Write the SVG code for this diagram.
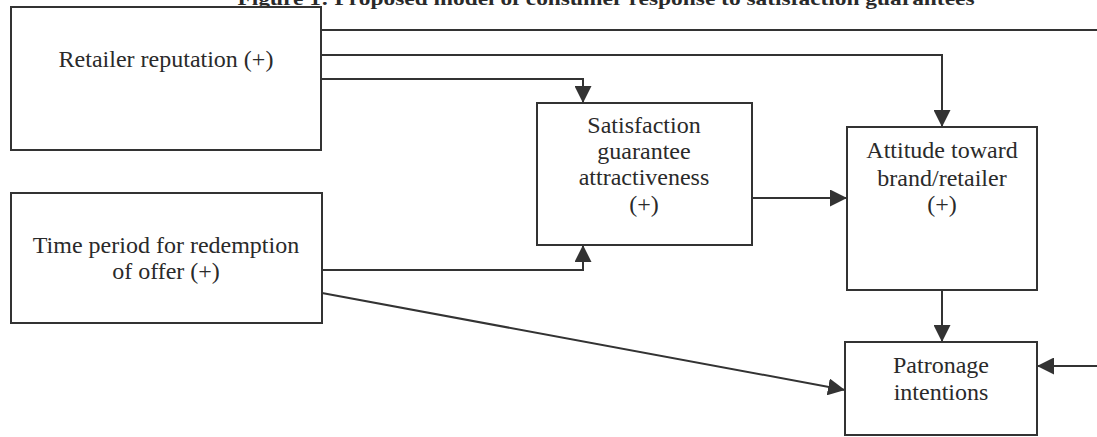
<svg xmlns="http://www.w3.org/2000/svg" width="1097" height="437" viewBox="0 0 1097 437">
<defs>
<style>
.box{fill:#fff;stroke:#333;stroke-width:2}
.lbl{font-family:"Liberation Serif","Times New Roman",serif;font-size:24px;fill:#2a2a2a;text-anchor:middle}
.title{font-family:"Liberation Serif","Times New Roman",serif;font-size:19px;font-weight:bold;fill:#2a2a2a;text-anchor:middle}
.con{fill:none;stroke:#333;stroke-width:2}
</style>
<marker id="ah" viewBox="0 0 17 17" refX="17" refY="8.5" markerWidth="17" markerHeight="17" markerUnits="userSpaceOnUse" orient="auto">
<path d="M0,0 L17,8.5 L0,17 Z" fill="#333"/>
</marker>
</defs>
<rect width="1097" height="437" fill="#fff"/>
<text class="title" x="606" y="5" textLength="737" lengthAdjust="spacingAndGlyphs">Figure 1: Proposed model of consumer response to satisfaction guarantees</text>
<g id="connectors">
<path class="con" d="M321,30 H1097"/>
<path class="con" d="M321,55 H942 V127" marker-end="url(#ah)"/>
<path class="con" d="M321,79 H583 V103" marker-end="url(#ah)"/>
<path class="con" d="M322,270 H583 V245" marker-end="url(#ah)"/>
<path class="con" d="M752,198 H847" marker-end="url(#ah)"/>
<path class="con" d="M942,290 V342" marker-end="url(#ah)"/>
<path class="con" d="M322,293 L845,390" marker-end="url(#ah)"/>
<path class="con" d="M1097,366 H1037" marker-end="url(#ah)"/>
</g>
<g id="retailer">
<rect class="box" x="11" y="7" width="310" height="143"/>
<text class="lbl" x="166" y="67">Retailer reputation (+)</text>
</g>
<g id="time">
<rect class="box" x="11" y="193" width="311" height="130"/>
<text class="lbl" x="166" y="253">Time period for redemption</text>
<text class="lbl" x="166" y="279">of offer (+)</text>
</g>
<g id="satisfaction">
<rect class="box" x="537" y="103" width="215" height="142"/>
<text class="lbl" x="644" y="133">Satisfaction</text>
<text class="lbl" x="644" y="159">guarantee</text>
<text class="lbl" x="644" y="185">attractiveness</text>
<text class="lbl" x="644" y="212">(+)</text>
</g>
<g id="attitude">
<rect class="box" x="847" y="127" width="190" height="163"/>
<text class="lbl" x="942" y="158">Attitude toward</text>
<text class="lbl" x="942" y="186">brand/retailer</text>
<text class="lbl" x="942" y="212">(+)</text>
</g>
<g id="patronage">
<rect class="box" x="845" y="342" width="192" height="93"/>
<text class="lbl" x="941" y="373">Patronage</text>
<text class="lbl" x="941" y="400">intentions</text>
</g>
</svg>
